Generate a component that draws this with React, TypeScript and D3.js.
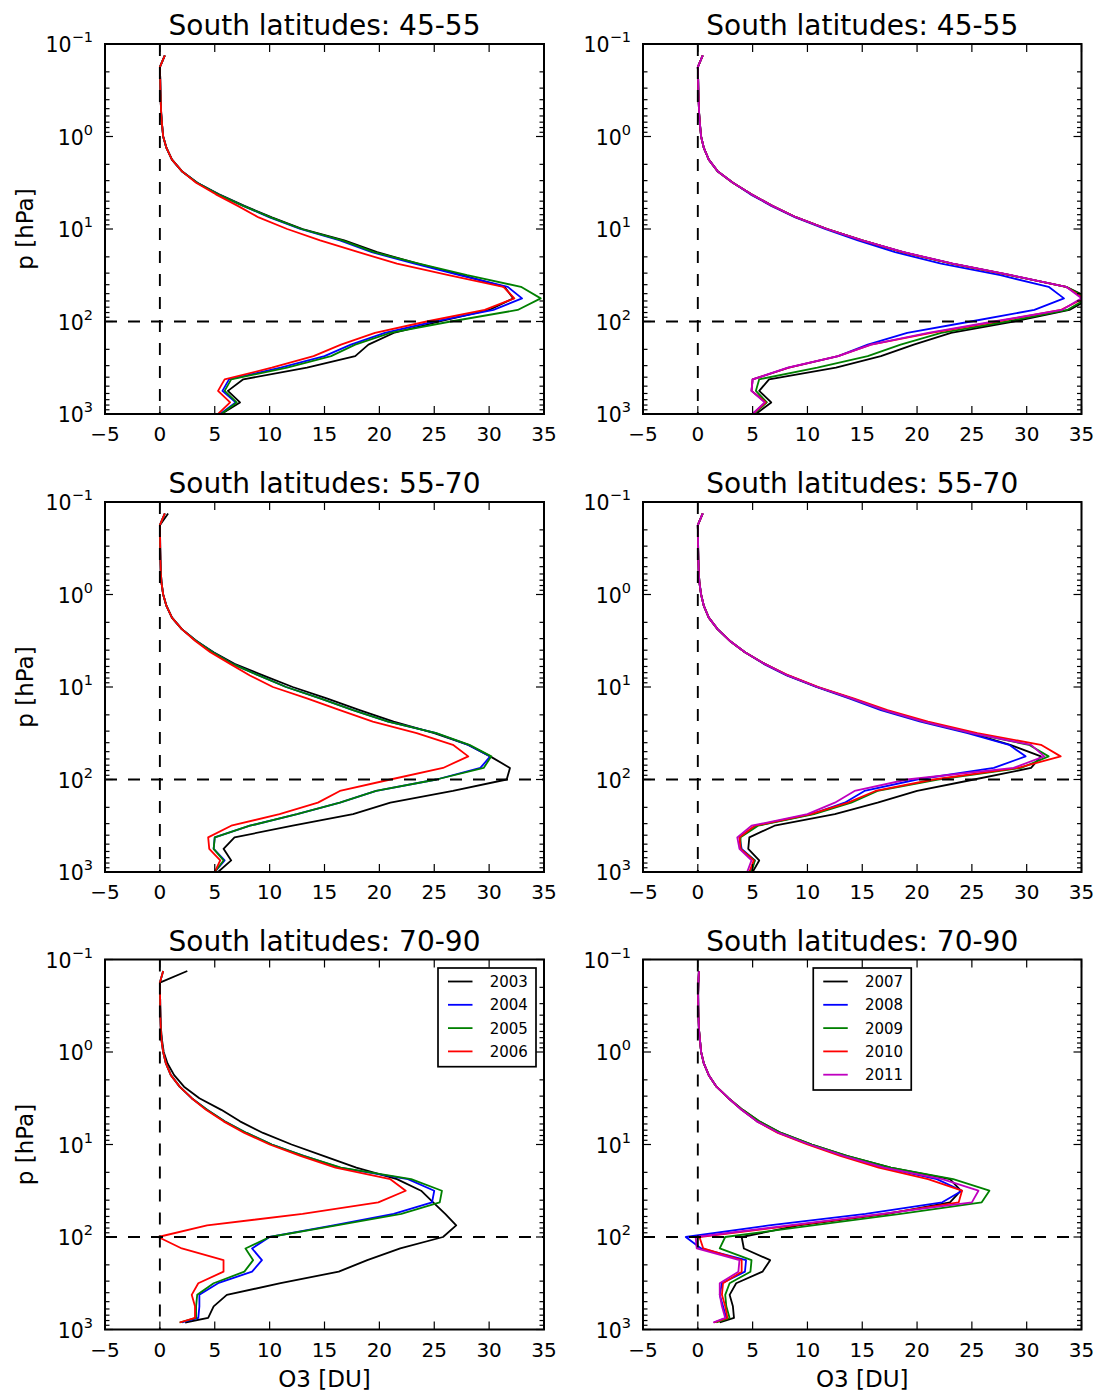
import React from 'react';
import * as d3 from 'd3';

// Pressure levels (hPa), bottom to top
const pressureLevels = [1000, 750, 562, 422, 316, 237, 178, 133, 100, 75, 56.2, 42.2, 31.6, 23.7, 17.8, 13.3, 10, 7.5, 5.62, 4.22, 3.16, 2.37, 1.78, 1.33, 1, 0.75, 0.562, 0.422, 0.316, 0.237, 0.178, 0.133];
const polarLevels = [840, 750, 562, 422, 316, 237, 178, 133, 100, 75, 56.2, 42.2, 31.6, 23.7, 17.8, 13.3, 10, 7.5, 5.62, 4.22, 3.16, 2.37, 1.78, 1.33, 1, 0.75, 0.562, 0.422, 0.316, 0.237, 0.178, 0.133];

const xTicks = [-5, 0, 5, 10, 15, 20, 25, 30, 35];
const yExponents = [-1, 0, 1, 2, 3];
const titles = ['South latitudes: 45-55', 'South latitudes: 45-55', 'South latitudes: 55-70', 'South latitudes: 55-70', 'South latitudes: 70-90', 'South latitudes: 70-90'];
const yearsA = ['2003', '2004', '2005', '2006'];
const yearsB = ['2007', '2008', '2009', '2010', '2011'];
const colorsA = ['#000000', '#0000ff', '#008000', '#ff0000'];
const colorsB = ['#000000', '#0000ff', '#008000', '#ff0000', '#bf00bf'];

// 45-55, 2003-2006
const s4555_2003 = [5.6, 7.3, 6.2, 7.6, 13.4, 17.8, 19.0, 21.3, 25.5, 30.0, 32.2, 31.4, 27.5, 23.5, 19.8, 16.8, 13.0, 10.2, 7.7, 5.4, 3.4, 2.0, 1.1, 0.6, 0.3, 0.2, 0.12, 0.08, 0.05, 0.03, 0.0, 0.45];
const s4555_2004 = [5.5, 6.9, 5.7, 6.3, 11.0, 15.0, 17.4, 20.5, 25.0, 30.4, 33.0, 31.7, 27.3, 23.2, 19.3, 16.4, 12.8, 10.0, 7.6, 5.3, 3.4, 2.0, 1.1, 0.6, 0.3, 0.2, 0.12, 0.08, 0.05, 0.03, 0.0, 0.45];
const s4555_2005 = [5.6, 7.0, 5.9, 6.5, 11.6, 15.6, 17.8, 21.0, 26.5, 32.6, 34.7, 32.9, 28.0, 23.6, 19.5, 16.6, 12.9, 10.1, 7.6, 5.3, 3.4, 2.0, 1.1, 0.6, 0.3, 0.2, 0.12, 0.08, 0.05, 0.03, 0.0, 0.45];
const s4555_2006 = [5.3, 6.4, 5.3, 5.9, 10.2, 14.0, 16.5, 19.6, 24.3, 29.6, 32.3, 31.3, 26.3, 21.6, 18.1, 14.6, 11.6, 9.0, 7.1, 5.1, 3.3, 2.0, 1.1, 0.6, 0.3, 0.2, 0.12, 0.08, 0.05, 0.03, 0.0, 0.45];
// 45-55, 2007-2011
const s4555_2007 = [5.3, 6.7, 5.6, 6.5, 12.6, 16.7, 19.7, 23.1, 28.8, 33.9, 35.8, 33.6, 28.5, 23.2, 18.7, 15.0, 11.8, 9.0, 6.8, 4.9, 3.2, 1.8, 1.0, 0.55, 0.3, 0.2, 0.12, 0.08, 0.05, 0.03, 0.0, 0.45];
const s4555_2008 = [5.0, 6.2, 4.9, 5.0, 8.3, 12.8, 15.5, 19.1, 24.9, 30.7, 33.4, 32.0, 27.6, 22.2, 18.0, 14.6, 11.6, 8.9, 6.7, 4.8, 3.2, 1.8, 1.0, 0.55, 0.3, 0.2, 0.12, 0.08, 0.05, 0.03, 0.0, 0.45];
const s4555_2009 = [5.1, 6.3, 5.3, 5.6, 10.9, 15.5, 18.5, 22.2, 28.2, 33.7, 35.5, 33.6, 28.5, 23.2, 18.7, 15.0, 11.8, 9.0, 6.8, 4.9, 3.2, 1.8, 1.0, 0.55, 0.3, 0.2, 0.12, 0.08, 0.05, 0.03, 0.0, 0.45];
const s4555_2010 = [5.0, 6.2, 4.9, 5.0, 8.3, 12.8, 15.8, 21.3, 27.3, 33.1, 35.2, 33.6, 28.5, 23.2, 18.7, 15.0, 11.8, 9.0, 6.8, 4.9, 3.2, 1.8, 1.0, 0.55, 0.3, 0.2, 0.12, 0.08, 0.05, 0.03, 0.0, 0.45];
const s4555_2011 = [5.0, 6.1, 4.9, 5.0, 8.2, 12.8, 15.8, 21.0, 27.0, 33.2, 35.0, 33.6, 28.6, 23.3, 18.8, 15.0, 11.8, 9.0, 6.8, 4.9, 3.2, 1.8, 1.0, 0.55, 0.3, 0.2, 0.12, 0.08, 0.05, 0.03, 0.0, 0.45];
// 55-70, 2003-2006
const s5570_2003 = [5.3, 6.5, 5.8, 6.8, 12.1, 17.6, 21.0, 26.7, 31.6, 31.9, 30.1, 28.1, 25.0, 21.3, 18.2, 15.2, 12.1, 9.4, 6.8, 4.9, 3.3, 2.0, 1.1, 0.6, 0.3, 0.15, 0.08, 0.05, 0.03, 0.02, 0.0, 0.75];
const s5570_2004 = [5.0, 5.9, 4.9, 5.0, 8.2, 12.5, 16.4, 19.7, 25.2, 29.2, 30.1, 28.1, 25.2, 20.8, 17.6, 14.6, 11.5, 9.0, 6.6, 4.8, 3.3, 2.0, 1.1, 0.6, 0.3, 0.15, 0.08, 0.05, 0.03, 0.02, 0.0, 0.45];
const s5570_2005 = [5.0, 5.8, 4.9, 5.0, 8.2, 12.5, 16.4, 19.7, 25.2, 29.5, 30.2, 28.2, 25.2, 20.8, 17.6, 14.6, 11.5, 9.0, 6.6, 4.8, 3.3, 2.0, 1.1, 0.6, 0.3, 0.15, 0.08, 0.05, 0.03, 0.02, 0.0, 0.45];
const s5570_2006 = [5.0, 5.5, 4.5, 4.4, 6.5, 10.9, 14.4, 16.4, 21.0, 25.8, 28.1, 26.7, 23.4, 19.4, 16.4, 13.4, 10.3, 8.2, 6.4, 4.6, 3.2, 2.0, 1.1, 0.6, 0.3, 0.15, 0.08, 0.05, 0.03, 0.02, 0.0, 0.45];
// 55-70, 2007-2011
const s5570_2007 = [5.0, 5.6, 4.6, 4.7, 7.0, 12.5, 16.4, 20.0, 25.2, 30.4, 31.3, 28.5, 24.9, 20.6, 17.0, 14.0, 10.9, 8.2, 6.1, 4.3, 2.9, 1.8, 1.0, 0.55, 0.3, 0.15, 0.08, 0.05, 0.03, 0.02, 0.0, 0.45];
const s5570_2008 = [4.8, 5.2, 4.0, 3.8, 5.3, 10.4, 13.4, 15.2, 20.0, 27.0, 29.9, 28.4, 24.6, 20.3, 16.7, 13.8, 10.8, 8.1, 6.0, 4.3, 2.9, 1.8, 1.0, 0.55, 0.3, 0.15, 0.08, 0.05, 0.03, 0.02, 0.0, 0.45];
const s5570_2009 = [4.9, 5.2, 3.9, 3.9, 5.5, 10.6, 14.0, 16.4, 21.9, 29.5, 32.0, 30.2, 25.0, 20.6, 17.0, 14.0, 10.9, 8.2, 6.1, 4.3, 2.9, 1.8, 1.0, 0.55, 0.3, 0.15, 0.08, 0.05, 0.03, 0.02, 0.0, 0.45];
const s5570_2010 = [4.7, 5.1, 3.9, 3.8, 5.2, 10.3, 13.7, 16.2, 21.5, 29.2, 33.1, 31.3, 25.5, 21.0, 17.3, 14.2, 11.0, 8.3, 6.1, 4.3, 2.9, 1.8, 1.0, 0.55, 0.3, 0.15, 0.08, 0.05, 0.03, 0.02, 0.0, 0.45];
const s5570_2011 = [4.5, 4.9, 3.8, 3.6, 4.9, 10.0, 12.5, 14.3, 19.1, 28.8, 31.6, 30.4, 25.0, 20.6, 17.0, 14.0, 10.9, 8.2, 6.1, 4.3, 2.9, 1.8, 1.0, 0.55, 0.3, 0.15, 0.08, 0.05, 0.03, 0.02, 0.0, 0.45];
// 70-90, 2003-2006
const s7090_2003 = [2.3, 4.4, 4.9, 6.1, 11.0, 16.3, 18.9, 21.9, 25.8, 27.0, 26.0, 24.9, 23.8, 21.6, 17.9, 14.9, 12.0, 9.4, 7.3, 5.6, 3.6, 2.2, 1.3, 0.7, 0.35, 0.2, 0.1, 0.05, 0.03, 0.02, 0.0, 2.5];
const s7090_2004 = [2.0, 3.5, 3.6, 3.6, 5.3, 8.4, 9.3, 8.4, 10.0, 15.8, 21.3, 24.8, 25.0, 22.6, 16.4, 13.1, 10.2, 7.9, 5.9, 4.3, 2.9, 1.8, 1.0, 0.55, 0.3, 0.15, 0.08, 0.05, 0.03, 0.02, 0.0, 0.3];
const s7090_2005 = [1.8, 3.3, 3.3, 3.4, 4.9, 7.7, 8.5, 7.8, 10.0, 16.1, 22.0, 25.5, 25.7, 22.9, 16.5, 13.1, 10.2, 7.9, 5.9, 4.3, 2.9, 1.8, 1.0, 0.55, 0.3, 0.15, 0.08, 0.05, 0.03, 0.02, 0.0, 0.3];
const s7090_2006 = [1.8, 3.2, 3.2, 2.9, 3.5, 5.8, 5.8, 2.0, -0.15, 4.3, 13.0, 19.9, 22.4, 21.0, 16.0, 12.8, 10.0, 7.7, 5.8, 4.2, 2.9, 1.8, 1.0, 0.55, 0.3, 0.15, 0.08, 0.05, 0.03, 0.02, 0.0, 0.3];
// 70-90, 2007-2011
const s7090_2007 = [2.0, 3.3, 3.2, 2.9, 3.5, 5.9, 6.6, 4.2, 4.0, 9.2, 17.3, 23.0, 24.0, 23.0, 17.6, 13.6, 10.4, 7.6, 5.6, 4.1, 2.8, 1.7, 1.0, 0.55, 0.3, 0.2, 0.1, 0.06, 0.04, 0.03, 0.05, 0.1];
const s7090_2008 = [1.5, 2.6, 2.3, 2.0, 2.2, 4.3, 4.4, 0.3, -1.1, 6.5, 15.3, 22.3, 24.1, 21.8, 17.0, 13.3, 10.2, 7.4, 5.4, 4.0, 2.8, 1.7, 1.0, 0.55, 0.3, 0.2, 0.1, 0.06, 0.04, 0.03, 0.05, 0.1];
const s7090_2009 = [1.7, 2.9, 2.6, 2.5, 2.9, 4.8, 4.9, 2.0, 2.5, 10.5, 18.5, 25.9, 26.6, 23.3, 17.6, 13.6, 10.4, 7.6, 5.6, 4.1, 2.8, 1.7, 1.0, 0.55, 0.3, 0.2, 0.1, 0.06, 0.04, 0.03, 0.05, 0.1];
const s7090_2010 = [1.5, 2.7, 2.5, 2.2, 2.3, 4.0, 4.0, 0.5, 0.15, 8.8, 17.0, 23.8, 24.1, 21.0, 16.5, 13.0, 10.0, 7.3, 5.4, 4.0, 2.8, 1.7, 1.0, 0.55, 0.3, 0.2, 0.1, 0.06, 0.04, 0.03, 0.05, 0.1];
const s7090_2011 = [1.4, 2.5, 2.2, 2.0, 2.0, 3.7, 3.8, -0.1, -0.2, 8.3, 16.8, 25.0, 25.6, 22.3, 17.0, 13.3, 10.2, 7.4, 5.4, 4.0, 2.8, 1.7, 1.0, 0.55, 0.3, 0.2, 0.1, 0.06, 0.04, 0.03, 0.05, 0.1];

const FONT = 'DejaVu Sans';
const colX = [105, 643];
const colW = [439, 438.5];
const rowY = [44, 502, 959.5];
const plotH = 370;

type PanelCfg = {
  title: string;
  levels: number[];
  series: number[][];
  colors: string[];
  years: string[];
  legend: null | 'right' | 'center';
};

const panels: PanelCfg[] = [
  { title: titles[0], levels: pressureLevels, series: [s4555_2003, s4555_2004, s4555_2005, s4555_2006], colors: colorsA, years: yearsA, legend: null },
  { title: titles[1], levels: pressureLevels, series: [s4555_2007, s4555_2008, s4555_2009, s4555_2010, s4555_2011], colors: colorsB, years: yearsB, legend: null },
  { title: titles[2], levels: pressureLevels, series: [s5570_2003, s5570_2004, s5570_2005, s5570_2006], colors: colorsA, years: yearsA, legend: null },
  { title: titles[3], levels: pressureLevels, series: [s5570_2007, s5570_2008, s5570_2009, s5570_2010, s5570_2011], colors: colorsB, years: yearsB, legend: null },
  { title: titles[4], levels: polarLevels, series: [s7090_2003, s7090_2004, s7090_2005, s7090_2006], colors: colorsA, years: yearsA, legend: 'right' },
  { title: titles[5], levels: polarLevels, series: [s7090_2007, s7090_2008, s7090_2009, s7090_2010, s7090_2011], colors: colorsB, years: yearsB, legend: 'center' },
];

function Panel({ cfg, idx }: { cfg: PanelCfg; idx: number }) {
  const col = idx % 2;
  const row = Math.floor(idx / 2);
  const x0 = colX[col];
  const w = colW[col];
  const y0 = rowY[row];
  const h = plotH;
  const xs = d3.scaleLinear().domain([-5, 35]).range([x0, x0 + w]);
  const ys = d3.scaleLog().domain([0.1, 1000]).range([y0, y0 + h]);
  const line = d3.line<number>().x((d) => xs(d)).y((_d, i) => ys(cfg.levels[i]));
  const clipId = `clip${idx}`;
  const minor: number[] = [];
  for (let e = -1; e < 3; e++) for (let m = 2; m <= 9; m++) minor.push(m * Math.pow(10, e));
  const majorLen = 8;
  const minorLen = 4.5;

  let legend = null as any;
  if (cfg.legend) {
    const bw = 98;
    const rowH = 23.3;
    const bh = cfg.years.length * rowH + 5.5;
    const bx = cfg.legend === 'right' ? x0 + w - 8 - bw : x0 + w / 2 - bw / 2;
    const by = y0 + 8.5;
    legend = (
      <g>
        <rect x={bx} y={by} width={bw} height={bh} fill="#fff" stroke="#000" strokeWidth={1.7} />
        {cfg.years.map((yr, i) => {
          const cy = by + 13.5 + i * rowH;
          return (
            <g key={yr}>
              <line x1={bx + 10} x2={bx + 34.5} y1={cy} y2={cy} stroke={cfg.colors[i]} strokeWidth={1.8} />
              <text x={bx + 51.7} y={cy + 5.5} fontSize={15} fontFamily={FONT}>{yr}</text>
            </g>
          );
        })}
      </g>
    );
  }

  return (
    <g>
      <defs>
        <clipPath id={clipId}>
          <rect x={x0} y={y0} width={w} height={h} />
        </clipPath>
      </defs>
      <g clipPath={`url(#${clipId})`}>
        {cfg.series.map((s, i) => (
          <path key={i} d={line(s) || ''} fill="none" stroke={cfg.colors[i]} strokeWidth={1.8} strokeLinejoin="round" />
        ))}
        <line x1={xs(0)} x2={xs(0)} y1={y0} y2={y0 + h} stroke="#000" strokeWidth={1.9} strokeDasharray="12,11" />
        <line x1={x0} x2={x0 + w} y1={ys(100)} y2={ys(100)} stroke="#000" strokeWidth={1.9} strokeDasharray="12,11" />
      </g>
      {xTicks.map((t) => (
        <g key={'xt' + t}>
          <line x1={xs(t)} x2={xs(t)} y1={y0 + h} y2={y0 + h - majorLen} stroke="#000" strokeWidth={1.2} />
          <line x1={xs(t)} x2={xs(t)} y1={y0} y2={y0 + majorLen} stroke="#000" strokeWidth={1.2} />
          <text x={xs(t)} y={y0 + h + 27} fontSize={20} fontFamily={FONT} textAnchor="middle">
            {t < 0 ? '\u2212' + Math.abs(t) : String(t)}
          </text>
        </g>
      ))}
      {yExponents.map((e) => {
        const v = Math.pow(10, e);
        return (
          <g key={'yt' + e}>
            <line x1={x0} x2={x0 + majorLen} y1={ys(v)} y2={ys(v)} stroke="#000" strokeWidth={1.2} />
            <line x1={x0 + w} x2={x0 + w - majorLen} y1={ys(v)} y2={ys(v)} stroke="#000" strokeWidth={1.2} />
            <text x={x0 - 12} y={ys(v) + 8} fontSize={20.5} fontFamily={FONT} textAnchor="end">
              10<tspan dy={-10} fontSize={14.5}>{e < 0 ? '\u2212' + Math.abs(e) : String(e)}</tspan>
            </text>
          </g>
        );
      })}
      {minor.map((v) => (
        <g key={'ym' + v}>
          <line x1={x0} x2={x0 + minorLen} y1={ys(v)} y2={ys(v)} stroke="#000" strokeWidth={1.2} />
          <line x1={x0 + w} x2={x0 + w - minorLen} y1={ys(v)} y2={ys(v)} stroke="#000" strokeWidth={1.2} />
        </g>
      ))}
      <rect x={x0} y={y0} width={w} height={h} fill="none" stroke="#000" strokeWidth={2} />
      {legend}
      <text x={x0 + w / 2} y={y0 - 9} fontSize={28} fontFamily={FONT} textAnchor="middle">{cfg.title}</text>
      {col === 0 && (
        <text transform={`translate(33,${y0 + h / 2}) rotate(-90)`} fontSize={23} fontFamily={FONT} textAnchor="middle">p [hPa]</text>
      )}
      {row === 2 && (
        <text x={x0 + w / 2} y={1387} fontSize={23} fontFamily={FONT} textAnchor="middle">O3 [DU]</text>
      )}
    </g>
  );
}

export default function App() {
  return (
    <svg width={1098} height={1394} style={{ position: 'absolute', left: 0, top: 0, background: '#fff' }} xmlns="http://www.w3.org/2000/svg">
      <rect x={0} y={0} width={1098} height={1394} fill="#fff" />
      {panels.map((p, i) => (
        <Panel key={i} cfg={p} idx={i} />
      ))}
    </svg>
  );
}
